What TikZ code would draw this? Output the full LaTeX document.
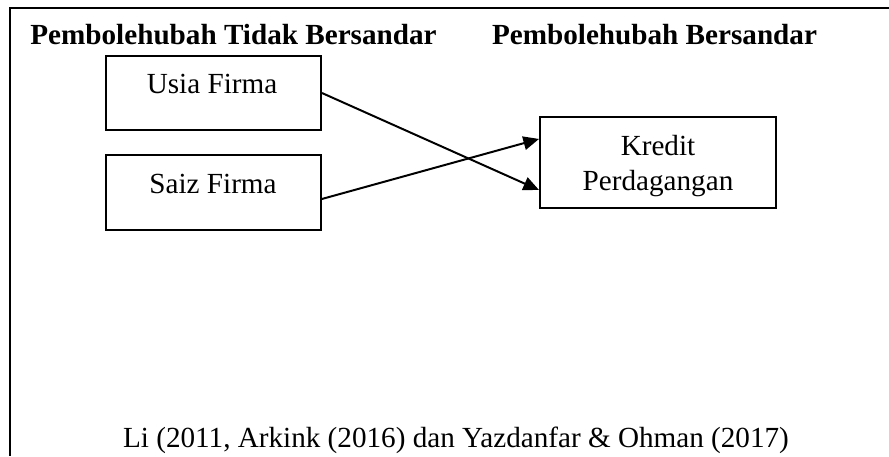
\documentclass[tikz,border=0pt]{standalone}
\usepackage{fontspec}
\setmainfont{Liberation Serif}
\usetikzlibrary{arrows.meta}
\begin{document}
\begin{tikzpicture}[x=0.48pt,y=-0.48pt,
  frameline/.style={line width=0.95pt},
  boxnode/.style={draw,line width=0.95pt,rectangle,inner sep=0pt},
  txt/.style={anchor=base,inner sep=0pt,font=\fontsize{14}{17}\selectfont},
  head/.style={anchor=base,inner sep=0pt,font=\fontsize{14}{17}\selectfont\bfseries},
  link/.style={line width=0.95pt,-{Triangle[length=7.5pt,width=6.5pt]}}]
\useasboundingbox (0,0) rectangle (889,456);
% frame (top and left edges only)
\coordinate (ftl) at (10,8);
\coordinate (ftr) at (889,8);
\coordinate (fbl) at (10,456);
\draw[frameline] (ftr) -- (ftl) -- (fbl);
% headings
\node[head] (h1) at (233.5,45) {Pembolehubah Tidak Bersandar};
\node[head] (h2) at (654.5,45) {Pembolehubah Bersandar};
% boxes
\node[boxnode,minimum width=215*0.48pt,minimum height=74*0.48pt] (usia) at (213.5,93) {};
\node[boxnode,minimum width=215*0.48pt,minimum height=75*0.48pt] (saiz) at (213.5,192.5) {};
\node[boxnode,minimum width=236*0.48pt,minimum height=91*0.48pt] (kredit) at (658,162.5) {};
% box texts
\node[txt] (tusia) at (212,93) {Usia Firma};
\node[txt] (tsaiz) at (213,193) {Saiz Firma};
\node[txt] (tkredit1) at (658,155) {Kredit};
\node[txt] (tkredit2) at (658,190) {Perdagangan};
% connectors
\draw[link] (usia.east) -- ([yshift=-13.2pt]kredit.west);
\draw[link] ([yshift=-3.1pt]saiz.east) -- ([yshift=11.3pt]kredit.west);
% source line
\node[txt] (src) at (456,447) {Li (2011, Arkink (2016) dan Yazdanfar \& Ohman (2017)};
\end{tikzpicture}
\end{document}
